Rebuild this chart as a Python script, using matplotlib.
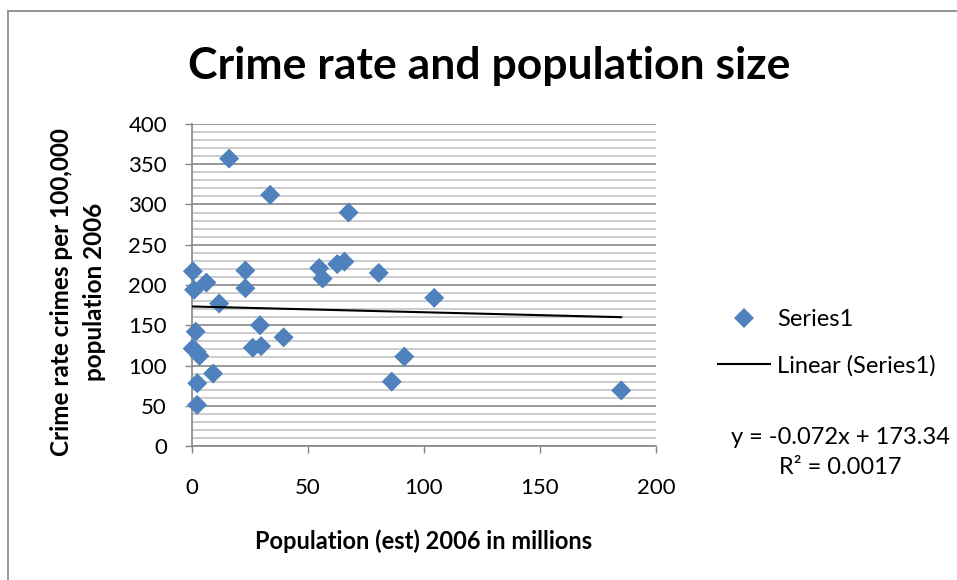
import matplotlib
matplotlib.use("Agg")
import matplotlib.pyplot as plt
from matplotlib.lines import Line2D
from matplotlib.patches import Rectangle
import numpy as np

plt.rcParams['font.family'] = ['Lato', 'DejaVu Sans']

# Population (millions) and crime rate (per 100,000), 2006
population = [16.0, 33.7, 67.5, 0.4, 23.0, 6.2, 0.9, 23.0, 11.7, 54.8,
              56.3, 62.6, 65.7, 80.5, 104.4, 1.6, 29.3, 0.3, 2.0, 3.2,
              26.2, 29.8, 39.5, 9.1, 2.3, 2.2, 91.5, 86.1, 185.0]
crime_rate = [357, 312, 290, 217, 218, 203, 194, 196, 177, 221,
              208, 226, 229, 215, 184, 142, 150, 121, 117, 112,
              122, 124, 135, 90, 78, 51, 111, 80, 69]

# Linear trendline coefficients
slope = -0.072
intercept = 173.34
r_squared = 0.0017

x_ticks = [0, 50, 100, 150, 200]
y_ticks = [0, 50, 100, 150, 200, 250, 300, 350, 400]

W, H = 957, 580
fig = plt.figure(figsize=(W / 100, H / 100), dpi=100)

# chart area border (top and left edges visible)
fig.patches.append(Rectangle((8 / W, -0.1), 1.2, 1 - 11 / H + 0.1,
                             transform=fig.transFigure, fill=False,
                             edgecolor='#8c8c8c', linewidth=1.3))

ax = fig.add_axes([192 / W, 1 - 446 / H, (656 - 192) / W, (446 - 124) / H])

blue = '#4F81BD'
ax.scatter(population, crime_rate, marker='D', s=10.2 ** 2, color=blue,
           edgecolors='none', zorder=3, clip_on=False)

tx = np.array([min(population), max(population)])
ax.plot(tx, slope * tx + intercept, color='black', linewidth=1.5, zorder=4)

ax.set_xlim(0, 200)
ax.set_ylim(0, 400)
ax.set_xticks(x_ticks)
ax.set_yticks(y_ticks)
ax.set_yticks(np.arange(0, 401, 10), minor=True)
ax.tick_params(axis='both', which='major', labelsize=16, direction='out',
               length=5, width=1, color='#868686')
ax.tick_params(axis='y', which='major', pad=13)
ax.tick_params(axis='x', which='major', pad=18)
ax.tick_params(axis='y', which='minor', length=0)

ax.grid(axis='y', which='major', color='#868686', linewidth=1.2, zorder=0)
ax.grid(axis='y', which='minor', color='#c4c4c4', linewidth=1.2, zorder=0)
ax.set_axisbelow(True)

for side in ['top', 'right']:
    ax.spines[side].set_visible(False)
for side in ['left', 'bottom']:
    ax.spines[side].set_color('#868686')
    ax.spines[side].set_linewidth(1.2)

fig.text(489 / W, 1 - 66 / H, 'Crime rate and population size',
         ha='center', va='center', fontsize=32, fontweight='bold')
fig.text(424 / W, 1 - 541 / H, 'Population (est) 2006 in millions',
         ha='center', va='center', fontsize=17, fontweight='bold')
fig.text(78 / W, 1 - 292 / H, 'Crime rate crimes per 100,000\npopulation 2006',
         ha='center', va='center', rotation=90, fontsize=17.5,
         fontweight='bold', linespacing=1.5)

handles = [
    Line2D([], [], marker='D', linestyle='none', color=blue, markersize=10,
           markeredgewidth=0),
    Line2D([], [], color='black', linewidth=1.5),
]
fig.legend(handles, ['Series1', 'Linear (Series1)'], frameon=False,
           loc='upper left', bbox_to_anchor=(718 / W, 1 - 309 / H),
           fontsize=17, handlelength=2.2, handletextpad=0.3,
           labelspacing=1.05, borderpad=0, borderaxespad=0)

fig.text(840 / W, 1 - 437 / H, f'y = {slope}x + {intercept}',
         ha='center', va='center', fontsize=17)
fig.text(840 / W, 1 - 468 / H, f'R² = {r_squared}',
         ha='center', va='center', fontsize=17)

fig.savefig('out.png', dpi=100, facecolor='white')
